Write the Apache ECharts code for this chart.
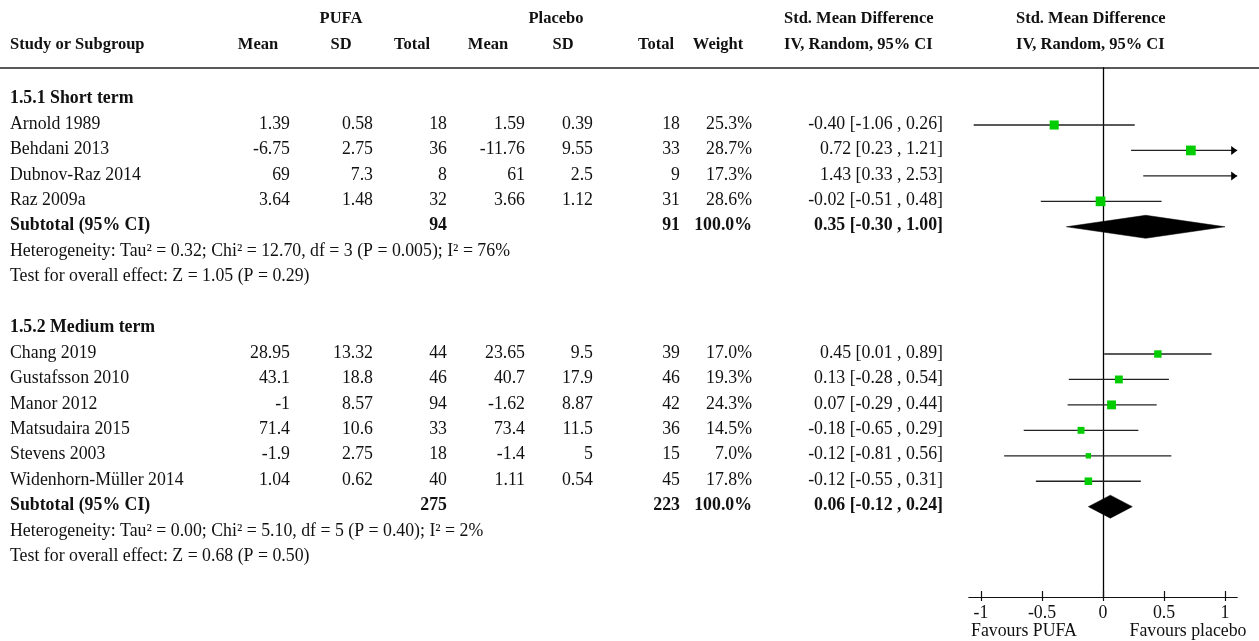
<!DOCTYPE html>
<html>
<head>
<meta charset="utf-8">
<title>PUFA vs placebo – Std. Mean Difference</title>
<script src="https://cdn.jsdelivr.net/npm/echarts@6/dist/echarts.min.js"></script>
<style>
  html, body { margin: 0; padding: 0; background: #fff; }
  #chart { width: 1259px; height: 641px; }
</style>
</head>
<body>
<div id="chart"></div>
<script>
// ---- Study data ----
const studies = ['Arnold 1989', 'Behdani 2013', 'Dubnov-Raz 2014', 'Raz 2009a',
  'Chang 2019', 'Gustafsson 2010', 'Manor 2012', 'Matsudaira 2015', 'Stevens 2003', 'Widenhorn-Müller 2014'];
const pufaMean = [1.39, -6.75, 69, 3.64, 28.95, 43.1, -1, 71.4, -1.9, 1.04];
const pufaSD = [0.58, 2.75, 7.3, 1.48, 13.32, 18.8, 8.57, 10.6, 2.75, 0.62];
const pufaN = [18, 36, 8, 32, 44, 46, 94, 33, 18, 40];
const placeboMean = [1.59, -11.76, 61, 3.66, 23.65, 40.7, -1.62, 73.4, -1.4, 1.11];
const placeboSD = [0.39, 9.55, 2.5, 1.12, 9.5, 17.9, 8.87, 11.5, 5, 0.54];
const placeboN = [18, 33, 9, 31, 39, 46, 42, 36, 15, 45];
const weights = [25.3, 28.7, 17.3, 28.6, 17.0, 19.3, 24.3, 14.5, 7.0, 17.8];
const smd = [-0.40, 0.72, 1.43, -0.02, 0.45, 0.13, 0.07, -0.18, -0.12, -0.12];
const ciLow = [-1.06, 0.23, 0.33, -0.51, 0.01, -0.28, -0.29, -0.65, -0.81, -0.55];
const ciHigh = [0.26, 1.21, 2.53, 0.48, 0.89, 0.54, 0.44, 0.29, 0.56, 0.31];

// ---- Subgroups ----
const groupTitles = ['1.5.1 Short term', '1.5.2 Medium term'];
const groupSizes = [4, 6];
const subtotalPufaN = [94, 275];
const subtotalPlaceboN = [91, 223];
const subtotalSmd = [0.35, 0.06];
const subtotalLow = [-0.30, -0.12];
const subtotalHigh = [1.00, 0.24];
const heterogeneity = [
  'Heterogeneity: Tau² = 0.32; Chi² = 12.70, df = 3 (P = 0.005); I² = 76%',
  'Heterogeneity: Tau² = 0.00; Chi² = 5.10, df = 5 (P = 0.40); I² = 2%'
];
const overallEffect = [
  'Test for overall effect: Z = 1.05 (P = 0.29)',
  'Test for overall effect: Z = 0.68 (P = 0.50)'
];

// ---- Axis ----
const xTicks = [-1, -0.5, 0, 0.5, 1];
const favourLabels = ['Favours PUFA', 'Favours placebo'];
const X_MIN = -1.1, X_MAX = 1.1;

// ---- Layout ----
const FONT = '"Liberation Serif", "Times New Roman", serif';
const FS = 17.8;       // body text
const FS_HEAD = 16.5;  // column headers
const INK = '#111';
const GREEN = '#00cc00';
const colRight = { pMean: 290, pSD: 373, pN: 447, cMean: 525, cSD: 593, cN: 680, weight: 752, ci: 943 };
const TEXT_DY = -1;

function ciText(m, lo, hi) {
  return m.toFixed(2) + ' [' + lo.toFixed(2) + ' , ' + hi.toFixed(2) + ']';
}

// Build table rows and forest marks from the arrays
const tableRows = [];
const forestData = []; // [estimate, row, low, high, weight, kind(0 study / 1 subtotal)]
let row = 0, s = 0;
groupTitles.forEach((title, g) => {
  tableRows.push({ row, cells: [{ text: title, x: 10, align: 'left', bold: true }] });
  row++;
  for (let k = 0; k < groupSizes[g]; k++, s++, row++) {
    tableRows.push({ row, cells: [
      { text: studies[s], x: 10, align: 'left' },
      { text: String(pufaMean[s]), x: colRight.pMean, align: 'right' },
      { text: String(pufaSD[s]), x: colRight.pSD, align: 'right' },
      { text: String(pufaN[s]), x: colRight.pN, align: 'right' },
      { text: String(placeboMean[s]), x: colRight.cMean, align: 'right' },
      { text: String(placeboSD[s]), x: colRight.cSD, align: 'right' },
      { text: String(placeboN[s]), x: colRight.cN, align: 'right' },
      { text: weights[s].toFixed(1) + '%', x: colRight.weight, align: 'right' },
      { text: ciText(smd[s], ciLow[s], ciHigh[s]), x: colRight.ci, align: 'right' }
    ]});
    forestData.push([smd[s], row, ciLow[s], ciHigh[s], weights[s], 0]);
  }
  tableRows.push({ row, cells: [
    { text: 'Subtotal (95% CI)', x: 10, align: 'left', bold: true },
    { text: String(subtotalPufaN[g]), x: colRight.pN, align: 'right', bold: true },
    { text: String(subtotalPlaceboN[g]), x: colRight.cN, align: 'right', bold: true },
    { text: '100.0%', x: colRight.weight, align: 'right', bold: true },
    { text: ciText(subtotalSmd[g], subtotalLow[g], subtotalHigh[g]), x: colRight.ci, align: 'right', bold: true }
  ]});
  forestData.push([subtotalSmd[g], row, subtotalLow[g], subtotalHigh[g], 100, 1]);
  row++;
  tableRows.push({ row, cells: [{ text: heterogeneity[g], x: 10, align: 'left' }] });
  row++;
  tableRows.push({ row, cells: [{ text: overallEffect[g], x: 10, align: 'left' }] });
  row += 2;
});

const chart = echarts.init(document.getElementById('chart'), null, { renderer: 'canvas' });

function headerText(text, cx, y, align) {
  return {
    type: 'text', silent: true,
    style: { text, x: cx, y, align: align || 'center', verticalAlign: 'middle',
      fontFamily: FONT, fontSize: FS_HEAD, fontWeight: 'bold', fill: INK }
  };
}

const option = {
  animation: false,
  backgroundColor: '#fff',
  grid: { left: 968.8, right: 21.8, top: 68, bottom: 44 },
  xAxis: [{
    type: 'value', min: X_MIN, max: X_MAX, position: 'bottom',
    axisLine: { show: true, onZero: false, lineStyle: { color: INK, width: 1.2 } },
    axisTick: { show: true, length: 4, customValues: xTicks, lineStyle: { color: INK, width: 1.2 } },
    axisLabel: { show: true, customValues: xTicks, margin: 7, color: INK, fontFamily: FONT, fontSize: FS },
    splitLine: { show: false }
  }, {
    type: 'value', min: X_MIN, max: X_MAX, position: 'bottom',
    axisLine: { show: false, onZero: false },
    axisTick: { show: true, inside: true, length: 6, customValues: xTicks, lineStyle: { color: INK, width: 1.2 } },
    axisLabel: { show: false },
    splitLine: { show: false }
  }],
  yAxis: {
    type: 'value', min: -1.24, max: 19.55, inverse: true,
    axisLine: { show: true, onZero: true, lineStyle: { color: '#000', width: 1.3 } },
    axisTick: { show: false }, axisLabel: { show: false }, splitLine: { show: false }
  },
  graphic: [
    { type: 'line', silent: true, shape: { x1: 0, y1: 68, x2: 1259, y2: 68 },
      style: { stroke: '#222', lineWidth: 1.5 } },
    headerText('PUFA', 341, 19),
    headerText('Placebo', 556, 19),
    headerText('Std. Mean Difference', 784, 19, 'left'),
    headerText('Std. Mean Difference', 1016, 19, 'left'),
    headerText('Study or Subgroup', 10, 45, 'left'),
    headerText('Mean', 258, 45),
    headerText('SD', 341, 45),
    headerText('Total', 412, 45),
    headerText('Mean', 488, 45),
    headerText('SD', 563, 45),
    headerText('Total', 656, 45),
    headerText('Weight', 718, 45),
    headerText('IV, Random, 95% CI', 784, 45, 'left'),
    headerText('IV, Random, 95% CI', 1016, 45, 'left'),
    { type: 'text', silent: true,
      style: { text: favourLabels[0], x: 1024, y: 631, align: 'center', verticalAlign: 'middle',
        fontFamily: FONT, fontSize: FS, fill: INK } },
    { type: 'text', silent: true,
      style: { text: favourLabels[1], x: 1188, y: 631, align: 'center', verticalAlign: 'middle',
        fontFamily: FONT, fontSize: FS, fill: INK } }
  ],
  series: [{
    // table text, positioned on the row scale
    type: 'custom', silent: true, clip: false,
    data: tableRows.map((r, i) => [0, r.row, i]),
    renderItem: function (params, api) {
      const y = api.coord([0, api.value(1)])[1] + TEXT_DY;
      const rowDef = tableRows[api.value(2)];
      return {
        type: 'group',
        children: rowDef.cells.map(c => ({
          type: 'text',
          style: { text: c.text, x: c.x, y, align: c.align, verticalAlign: 'middle',
            fontFamily: FONT, fontSize: FS, fontWeight: c.bold ? 'bold' : 'normal', fill: INK }
        }))
      };
    }
  }, {
    // forest marks: CI whiskers, weighted squares, subtotal diamonds
    type: 'custom', silent: true, clip: false,
    xAxisIndex: 0,
    dimensions: ['est', 'row', 'low', 'high', 'weight', 'kind'],
    encode: { x: 0, y: 1 },
    data: forestData,
    renderItem: function (params, api) {
      const est = api.value(0), r = api.value(1), lo = api.value(2), hi = api.value(3);
      const w = api.value(4), kind = api.value(5);
      const y = api.coord([0, r])[1];
      const px = v => api.coord([v, r])[0];
      if (kind === 1) {
        const h = 11.5;
        return {
          type: 'polygon',
          shape: { points: [[px(lo), y], [px(est), y - h], [px(hi), y], [px(est), y + h]] },
          style: { fill: '#000', stroke: '#000', lineWidth: 0.5 }
        };
      }
      const children = [];
      const x1 = px(Math.max(lo, X_MIN)), x2 = px(Math.min(hi, X_MAX));
      children.push({ type: 'line', shape: { x1, y1: y, x2, y2: y },
        style: { stroke: '#222', lineWidth: 1.3 } });
      if (hi > X_MAX) {
        children.push({ type: 'polygon', shape: { points: [[x2, y], [x2 - 6, y - 4.5], [x2 - 6, y + 4.5]] },
          style: { fill: '#000' } });
      }
      if (lo < X_MIN) {
        children.push({ type: 'polygon', shape: { points: [[x1, y], [x1 + 6, y - 4.5], [x1 + 6, y + 4.5]] },
          style: { fill: '#000' } });
      }
      if (est >= X_MIN && est <= X_MAX) {
        const size = 4 + 0.2 * w;
        const cx = px(est);
        children.push({ type: 'rect', shape: { x: cx - size / 2, y: y - size / 2, width: size, height: size },
          style: { fill: GREEN } });
      }
      return { type: 'group', children };
    }
  }]
};

chart.setOption(option);
</script>
</body>
</html>
